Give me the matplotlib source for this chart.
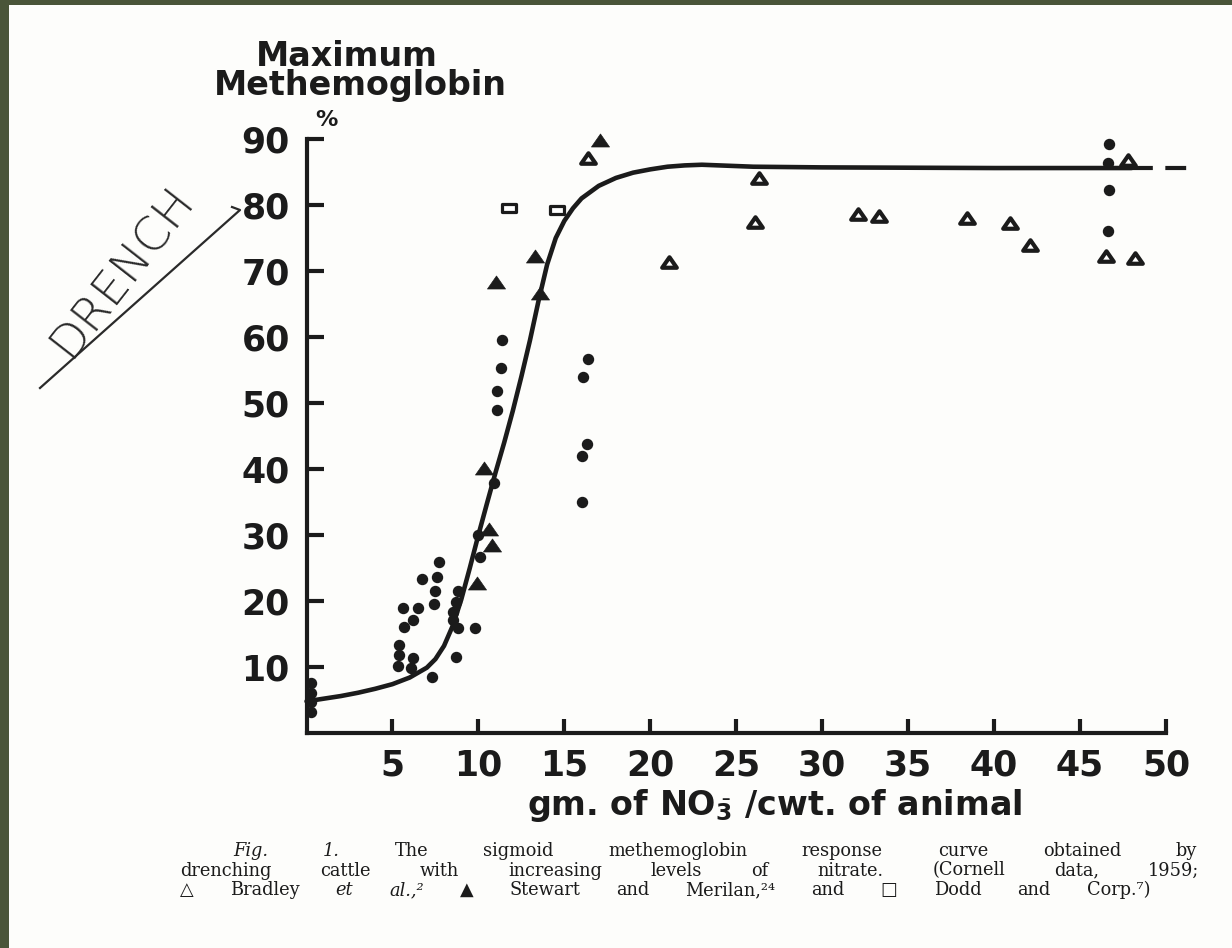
import matplotlib
matplotlib.use("Agg")
import matplotlib.pyplot as plt
from matplotlib.patches import Rectangle
from matplotlib.lines import Line2D
from matplotlib.path import Path
import numpy as np

W, H = 1232, 948
INK = "#1b1b1b"

# ---------------- data ----------------
x_ticks = [5, 10, 15, 20, 25, 30, 35, 40, 45, 50]
y_ticks = [10, 20, 30, 40, 50, 60, 70, 80, 90]

# Cornell data, 1959 (dots)
cornell_x = [0.25, 0.25, 0.25, 0.25,
             7.7, 6.7, 7.6, 7.5, 8.8, 5.6, 6.5, 7.4, 8.7, 8.5, 8.5, 6.2, 5.7,
             8.8, 9.8, 5.4, 5.4, 6.2, 5.3, 6.1, 8.7, 7.3, 10.0, 10.1, 10.9,
             11.4, 11.3, 11.1, 11.1, 16.4, 16.1, 16.3, 16.0, 16.0,
             46.7, 46.6, 46.7, 46.6]
cornell_y = [7.6, 6.1, 4.7, 3.2,
             25.9, 23.3, 23.6, 21.5, 21.5, 19.0, 19.0, 19.5, 19.9, 18.3, 17.1, 17.1, 16.1,
             15.9, 15.9, 13.3, 11.8, 11.4, 10.2, 9.8, 11.5, 8.5, 30.0, 26.7, 37.9,
             59.5, 55.3, 51.8, 48.9, 56.7, 53.9, 43.8, 42.0, 35.0,
             89.2, 86.4, 82.3, 76.1]

# Bradley et al. (open triangles)
bradley_x = [16.4, 26.3, 26.1, 21.1, 32.1, 33.3, 38.4, 40.9, 42.1, 46.5, 48.2, 47.8]
bradley_y = [87.1, 84.1, 77.4, 71.4, 78.6, 78.3, 78.0, 77.3, 74.0, 72.3, 72.0, 86.8]

# Stewart and Merilan (filled triangles)
stewart_x = [17.1, 13.3, 11.0, 13.6, 10.35, 10.6, 10.8, 9.9]
stewart_y = [89.8, 72.3, 68.3, 66.7, 40.1, 30.9, 28.5, 22.7]

# Dodd and Corp. (open squares)
dodd_x = [11.8, 14.6]
dodd_y = [79.5, 79.2]

# hand-drawn sigmoid response curve
curve_x = [0, 1, 2, 3, 4, 5, 6, 7, 7.5, 8, 8.5, 9, 9.5, 10, 10.5, 11, 11.5, 12,
           12.5, 13, 13.5, 14, 14.5, 15, 15.5, 16, 17, 18, 19, 20, 21, 22, 23,
           24, 26, 30, 40, 48]
curve_y = [4.8, 5.2, 5.6, 6.1, 6.7, 7.4, 8.4, 9.9, 11.2, 13.2, 16.2, 20.2, 25.0,
           30.0, 34.8, 39.5, 44.0, 48.8, 54.0, 59.5, 65.5, 71.0, 75.0, 77.6, 79.5,
           81.0, 82.9, 84.1, 84.9, 85.4, 85.8, 86.0, 86.1, 86.0, 85.8, 85.7, 85.6, 85.6]
curve_dash_x = [48, 51.3]
curve_dash_y = [85.6, 85.6]

caption_lines = [
    [("Fig.", "italic"), ("1.", "italic"), ("The", "normal"), ("sigmoid", "normal"),
     ("methemoglobin", "normal"), ("response", "normal"), ("curve", "normal"),
     ("obtained", "normal"), ("by", "normal")],
    [("drenching", "normal"), ("cattle", "normal"), ("with", "normal"),
     ("increasing", "normal"), ("levels", "normal"), ("of", "normal"),
     ("nitrate.", "normal"), ("(Cornell", "normal"), ("data,", "normal"),
     ("1959;", "normal")],
    [("\u25b3", "normal"), ("Bradley", "normal"), ("et", "italic"), ("al.,\u00b2", "italic"),
     ("\u25b2", "normal"), ("Stewart", "normal"), ("and", "normal"),
     ("Merilan,\u00b2\u2074", "normal"), ("and", "normal"), ("\u25a1", "normal"),
     ("Dodd", "normal"), ("and", "normal"), ("Corp.\u2077)", "normal")],
]

# ---------------- figure ----------------
fig = plt.figure(figsize=(W / 100, H / 100), dpi=100, facecolor="#4a5539")
fig.patches.append(Rectangle((9 / W, 0), 1, 1 - 5 / H, transform=fig.transFigure,
                             facecolor="#fdfdfb", edgecolor="none", zorder=-10))

ax = fig.add_axes([306.5 / W, 1 - 733 / H, (1166 - 306.5) / W, (733 - 139) / H])
ax.set_zorder(5)
ax.set_facecolor("none")
ax.set_xlim(0, 50)
ax.set_ylim(0, 90)
for s in ("top", "right"):
    ax.spines[s].set_visible(False)
for s in ("left", "bottom"):
    ax.spines[s].set_linewidth(3)
    ax.spines[s].set_color(INK)
ax.set_xticks(x_ticks)
ax.set_xticklabels([str(v) for v in x_ticks])
ax.set_yticks(y_ticks)
ax.set_yticklabels([str(v) for v in y_ticks])
ax.tick_params(axis="both", direction="in", width=3, color=INK, labelcolor=INK,
               labelsize=25)
ax.tick_params(axis="x", length=10, pad=11)
ax.tick_params(axis="y", length=12, pad=12)
for lab in ax.get_xticklabels() + ax.get_yticklabels():
    lab.set_fontweight("bold")
    lab.set_family("DejaVu Sans")

# curve
ax.plot(curve_x, curve_y, color=INK, lw=3.3, solid_capstyle="round", clip_on=False, zorder=2)
ax.plot(curve_dash_x, curve_dash_y, color=INK, lw=3.0, dashes=(5, 3), clip_on=False, zorder=2)

tri = Path([(-1, -0.72), (1, -0.72), (0, 0.72), (-1, -0.72)],
           [Path.MOVETO, Path.LINETO, Path.LINETO, Path.CLOSEPOLY])
sq = Path([(-1, -0.62), (1, -0.62), (1, 0.62), (-1, 0.62), (-1, -0.62)],
          [Path.MOVETO, Path.LINETO, Path.LINETO, Path.LINETO, Path.CLOSEPOLY])

ax.plot(cornell_x, cornell_y, ls="none", marker="o", ms=7.2, mfc=INK, mec=INK,
        clip_on=False, zorder=3)
ax.plot(stewart_x, stewart_y, ls="none", marker=tri, ms=13, mfc=INK, mec=INK, mew=0.5,
        clip_on=False, zorder=3)
ax.plot(bradley_x, bradley_y, ls="none", marker=tri, ms=10.5, mfc="white", mec=INK,
        mew=3.0, clip_on=False, zorder=3)
ax.plot(dodd_x, dodd_y, ls="none", marker=sq, ms=9.5, mfc="white", mec=INK,
        mew=2.3, clip_on=False, zorder=3)

# axis titles
def ftext(px, py, s, color=INK, **kw):
    return fig.text(px / W, 1 - py / H, s, color=color, **kw)

ftext(347, 56, "Maximum", ha="center", va="center", fontsize=24, fontweight="bold",
      family="DejaVu Sans")
ftext(360, 86, "Methemoglobin", ha="center", va="center", fontsize=24, fontweight="bold",
      family="DejaVu Sans")
ftext(326, 120, "%", ha="center", va="center", fontsize=16, fontweight="bold",
      family="DejaVu Sans")
ftext(775, 806, r"gm. of NO$_{\bar{\mathbf{3}}}$ /cwt. of animal", ha="center",
      va="center", fontsize=24, fontweight="bold", family="DejaVu Sans")

# handwritten annotation
ftext(122, 272, "DRENCH", ha="center", va="center", rotation=52, fontsize=34,
      fontweight="light", family="DejaVu Sans", color="#2a2a2a")
fig.add_artist(Line2D([40 / W, 240 / W, 232 / W], [1 - 388 / H, 1 - 210 / H, 1 - 207 / H],
                      transform=fig.transFigure, color="#2a2a2a", lw=1.6))

# caption (justified word placement)
renderer = fig.canvas.get_renderer()
cap_family = ["DejaVu Serif", "DejaVu Sans"]
cap_size = 12.8
line_specs = [(233, 856, 1197), (180, 875.5, 1199), (180, 895, 1150)]
for words, (x0, yb, x1) in zip(caption_lines, line_specs):
    objs = []
    for w, st in words:
        t = fig.text(0, 1 - yb / H, w, fontsize=cap_size, family=cap_family, style=st,
                     va="baseline", ha="left", color=INK)
        objs.append(t)
    widths = [t.get_window_extent(renderer).width for t in objs]
    gap = (x1 - x0 - sum(widths)) / (len(objs) - 1)
    x = x0
    for t, wdt in zip(objs, widths):
        t.set_x(x / W)
        x += wdt + gap

fig.savefig("out.png", dpi=100, facecolor=fig.get_facecolor())
